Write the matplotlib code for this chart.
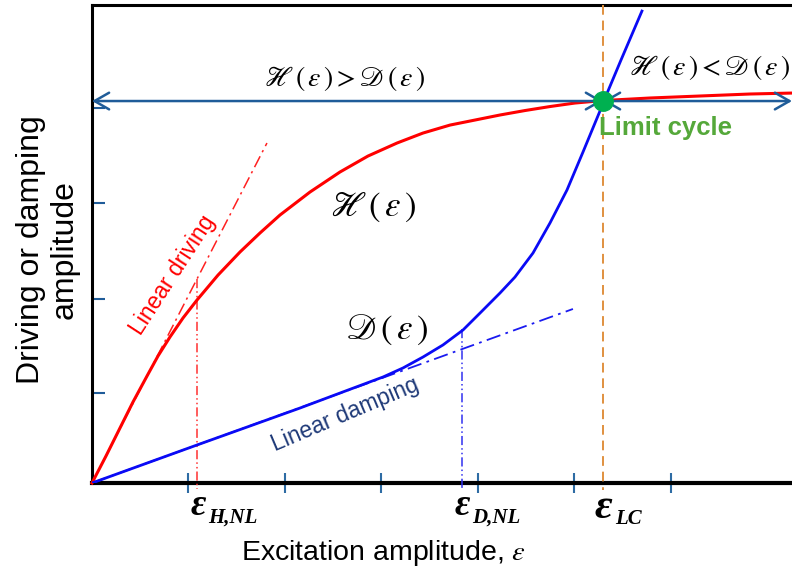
import matplotlib
matplotlib.use('Agg')
from matplotlib import pyplot as plt

plt.rcParams['font.family'] = ['Liberation Sans', 'DejaVu Sans']
plt.rcParams['mathtext.fontset'] = 'stix'

# driving curve H(eps)
h_x = [0, 0.145, 0.290, 0.425, 0.570, 0.684, 0.808, 0.943, 1.088, 1.306, 1.534,
       1.741, 1.948, 2.259, 2.570, 2.860, 3.161, 3.430, 3.710, 3.969, 4.228,
       4.487, 4.746, 5.005, 5.295, 5.782, 6.301, 6.819, 7.254]
h_y = [0, 0.284, 0.579, 0.853, 1.126, 1.337, 1.537, 1.737, 1.926, 2.189, 2.432,
       2.632, 2.821, 3.063, 3.274, 3.442, 3.579, 3.684, 3.768, 3.821, 3.874,
       3.921, 3.963, 4.000, 4.026, 4.053, 4.074, 4.095, 4.105]

# damping curve D(eps)
d_x = [0, 0.601, 1.088, 1.637, 2.155, 2.570, 3.016, 3.223, 3.430, 3.637, 3.845,
       4.021, 4.228, 4.383, 4.570, 4.746, 4.922, 5.088, 5.264, 5.295, 5.482, 5.699]
d_y = [0, 0.221, 0.400, 0.600, 0.789, 0.947, 1.116, 1.211, 1.326, 1.453, 1.611,
       1.789, 2.000, 2.168, 2.421, 2.737, 3.084, 3.484, 3.916, 4.000, 4.453, 4.968]

# linear approximations (start, end)
lin_drive_x = [0, 1.813]
lin_drive_y = [0, 3.579]
lin_damp_x = [0, 4.984]
lin_damp_y = [0, 1.832]

# characteristic amplitudes
eps_h_nl = 1.088
eps_d_nl = 3.834
eps_lc = 5.295
amp_lc = 4.021

xticks = [1, 2, 3, 4, 5, 6]
yticks = [0.947, 1.937, 2.947, 3.947]

fig = plt.figure(figsize=(7.92, 5.75), dpi=100)
ax = fig.add_axes([92/792, 1 - 483/575, 700/792, 478/575])
ax.set_xlim(0, 7.254)
ax.set_ylim(0, 5.032)

ax.plot(h_x, h_y, color='#ff0000', lw=2.2, zorder=4, clip_on=False,
        solid_joinstyle='round')
ax.plot(d_x, d_y, color='#0a0af5', lw=2.0, zorder=4, solid_joinstyle='round')
ax.plot(lin_drive_x, lin_drive_y, color='#ff2020', lw=1.1, dashes=(8, 3, 1.5, 3), zorder=3)
ax.plot(lin_damp_x, lin_damp_y, color='#1a1af0', lw=1.3, dashes=(8, 3, 1.5, 3), zorder=3)

ax.plot([eps_h_nl, eps_h_nl], [2.147, -0.06], color='#ff3030', lw=1.1,
        dashes=(6, 2, 1, 2, 1, 2), clip_on=False, zorder=3)
ax.plot([eps_d_nl, eps_d_nl], [1.62, -0.06], color='#3030f0', lw=1.1,
        dashes=(6, 2, 1, 2, 1, 2), clip_on=False, zorder=3)
ax.plot([eps_lc, eps_lc], [5.032, -0.07], color='#e0913f', lw=1.4,
        dashes=(5, 3), clip_on=False, zorder=3)

arrow_kw = dict(arrowstyle='<->,head_length=0.7,head_width=0.4', color='#1f5c99',
                lw=1.8, shrinkA=0, shrinkB=0, mutation_scale=15)
ax.annotate('', xy=(0, amp_lc), xytext=(eps_lc, amp_lc), arrowprops=arrow_kw,
            annotation_clip=False, zorder=5)
ax.annotate('', xy=(7.254, amp_lc), xytext=(eps_lc, amp_lc), arrowprops=arrow_kw,
            annotation_clip=False, zorder=5)
ax.plot([eps_lc], [amp_lc], 'o', color='#00b050', ms=14, zorder=6)

for s in ['top', 'left']:
    ax.spines[s].set_linewidth(2.2)
ax.spines['bottom'].set_linewidth(3)
ax.spines['right'].set_visible(False)

ax.set_xticks(xticks)
ax.set_yticks(yticks)
ax.set_xticklabels([])
ax.set_yticklabels([])
ax.tick_params(axis='x', direction='inout', length=14, width=1.5, color='#2e6ca4')
ax.tick_params(axis='y', direction='in', length=9, width=1.5, color='#1f5c99')

ax.text(2.622, 4.253, r'$\mathscr{H}\,(\,\varepsilon\,) > \mathscr{D}\,(\,\varepsilon\,)$',
        fontsize=20, ha='center', va='center')
ax.text(6.404, 4.379, r'$\mathscr{H}\,(\,\varepsilon\,) < \mathscr{D}\,(\,\varepsilon\,)$',
        fontsize=20, ha='center', va='center')
ax.text(2.912, 2.905, r'$\mathscr{H}\,(\,\varepsilon\,)$', fontsize=25, ha='center', va='center')
ax.text(3.057, 1.611, r'$\mathscr{D}\,(\,\varepsilon\,)$', fontsize=25, ha='center', va='center')

ax.text(0.839, 2.189, 'Linear driving', color='#ff0000', fontsize=16.5,
        rotation=57, ha='center', va='center', rotation_mode='anchor')
ax.text(2.622, 0.72, 'Linear damping', color='#1f3a78', fontsize=16.5,
        rotation=23, ha='center', va='center', rotation_mode='anchor')
ax.text(5.938, 3.737, 'Limit cycle', color='#55a83a', fontsize=18.5,
        fontweight='bold', ha='center', va='center')

eps_kw = dict(family='Liberation Serif', fontweight='bold', fontstyle='italic',
              ha='center', va='center')
sub_kw = dict(family='Liberation Serif', fontweight='bold', fontstyle='italic',
              ha='left', va='center', fontsize=15)
ax.text(eps_h_nl + 0.01, -0.242, 'ε', fontsize=27, **eps_kw)
ax.text(eps_h_nl + 0.114, -0.368, 'H,NL', **sub_kw)
ax.text(eps_d_nl, -0.242, 'ε', fontsize=27, **eps_kw)
ax.text(eps_d_nl + 0.104, -0.368, 'D,NL', **sub_kw)
ax.text(eps_lc, -0.263, 'ε', fontsize=31, **eps_kw)
ax.text(eps_lc + 0.125, -0.379, 'LC', **sub_kw)

fig.text(383/792, 1 - 553/575, r'Excitation amplitude, $\varepsilon$', fontsize=20.5,
         ha='center', va='center')
fig.text(48/792, 1 - 250/575, 'Driving or damping\namplitude', fontsize=23,
         rotation=90, ha='center', va='center', linespacing=1.15)

fig.savefig('out.png', dpi=100)
